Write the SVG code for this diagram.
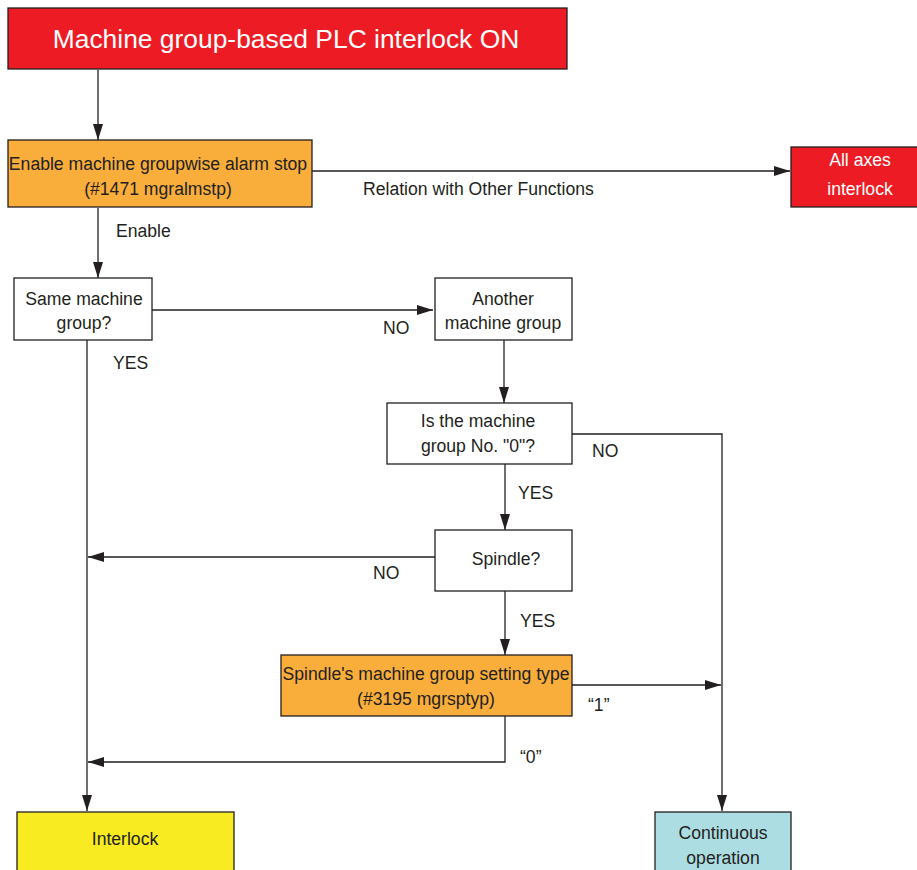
<svg xmlns="http://www.w3.org/2000/svg" width="917" height="870" viewBox="0 0 917 870">
<style>
text{font-family:"Liberation Sans",Arial,sans-serif;font-size:17.6px;fill:#231f20}
.c{text-anchor:middle}
.w{fill:#ffffff}
.box{stroke:#231f20;stroke-width:1.3}
.ln{fill:none;stroke:#231f20;stroke-width:1.3}
</style>
<defs>
<marker id="ah" viewBox="0 0 16 10" refX="16" refY="5" markerWidth="16" markerHeight="10" markerUnits="userSpaceOnUse" orient="auto">
<path d="M0,0 L16,5 L0,10 Z" fill="#231f20"/>
</marker>
</defs>
<g id="connectors">
<line class="ln" x1="98" y1="70" x2="98" y2="140" marker-end="url(#ah)"/>
<line class="ln" x1="312" y1="171" x2="790" y2="171" marker-end="url(#ah)"/>
<line class="ln" x1="98" y1="208" x2="98" y2="278" marker-end="url(#ah)"/>
<line class="ln" x1="152" y1="310" x2="433" y2="310" marker-end="url(#ah)"/>
<line class="ln" x1="87" y1="340" x2="87" y2="811" marker-end="url(#ah)"/>
<line class="ln" x1="504" y1="340" x2="504" y2="403" marker-end="url(#ah)"/>
<polyline class="ln" points="572,434 722,434 722,811" marker-end="url(#ah)"/>
<line class="ln" x1="505" y1="464" x2="505" y2="530" marker-end="url(#ah)"/>
<line class="ln" x1="435" y1="557" x2="88" y2="557" marker-end="url(#ah)"/>
<line class="ln" x1="505" y1="591" x2="505" y2="655" marker-end="url(#ah)"/>
<line class="ln" x1="572" y1="685" x2="721" y2="685" marker-end="url(#ah)"/>
<polyline class="ln" points="505,716 505,762 88,762" marker-end="url(#ah)"/>
<text x="363" y="195">Relation with Other Functions</text>
<text x="116" y="237">Enable</text>
<text x="383" y="334">NO</text>
<text x="113" y="369">YES</text>
<text x="592" y="457">NO</text>
<text x="518" y="499">YES</text>
<text x="373" y="579">NO</text>
<text x="520" y="627">YES</text>
<text x="588" y="711">“1”</text>
<text x="520" y="763">“0”</text>
</g>
<g id="start">
<rect class="box" x="8" y="8" width="559" height="61" fill="#ed1c24"/>
<text class="c w" x="286" y="48" style="font-size:26.4px">Machine group-based PLC interlock ON</text>
</g>
<g id="alarmstop">
<rect class="box" x="8" y="140" width="304" height="67" fill="#f9ad3b"/>
<text class="c" x="158" y="170">Enable machine groupwise alarm stop</text>
<text class="c" x="158" y="195">(#1471 mgralmstp)</text>
</g>
<g id="allaxes">
<rect class="box" x="791" y="147" width="130" height="60" fill="#ed1c24"/>
<text class="c w" x="860" y="166">All axes</text>
<text class="c w" x="860" y="195">interlock</text>
</g>
<g id="samegroup">
<rect class="box" x="14" y="278" width="138" height="62" fill="#ffffff"/>
<text class="c" x="84" y="305">Same machine</text>
<text class="c" x="84" y="329">group?</text>
</g>
<g id="anothergroup">
<rect class="box" x="435" y="278" width="137" height="62" fill="#ffffff"/>
<text class="c" x="503" y="305">Another</text>
<text class="c" x="503" y="329">machine group</text>
</g>
<g id="groupzero">
<rect class="box" x="387" y="403" width="185" height="61" fill="#ffffff"/>
<text class="c" x="478" y="427">Is the machine</text>
<text class="c" x="478" y="452">group No. "0"?</text>
</g>
<g id="spindle">
<rect class="box" x="435" y="530" width="137" height="61" fill="#ffffff"/>
<text class="c" x="506" y="565">Spindle?</text>
</g>
<g id="settingtype">
<rect class="box" x="281" y="655" width="291" height="61" fill="#f9ad3b"/>
<text class="c" x="426" y="680">Spindle's machine group setting type</text>
<text class="c" x="426" y="705">(#3195 mgrsptyp)</text>
</g>
<g id="interlock">
<rect class="box" x="17" y="812" width="217" height="62" fill="#f8eb22"/>
<text class="c" x="125" y="845">Interlock</text>
</g>
<g id="continuous">
<rect class="box" x="655" y="812" width="136" height="62" fill="#acdde3"/>
<text class="c" x="723" y="839">Continuous</text>
<text class="c" x="723" y="864">operation</text>
</g>
</svg>
